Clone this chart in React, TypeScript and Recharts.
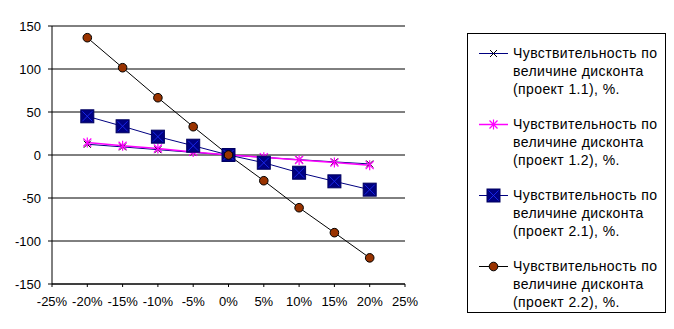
import React from "react";
import { LineChart, Line, XAxis, YAxis, CartesianGrid } from "recharts";

// discount change, %
const discounts = [-20, -15, -10, -5, 0, 5, 10, 15, 20];

const project11 = [12.5, 9.4, 6.2, 3, 0, -2.8, -5.4, -8, -10.4];
const project12 = [14.5, 10.8, 7.6, 3.6, 0, -2.5, -5.8, -8.8, -11.8];
const project21 = [45, 33.4, 21.3, 10.8, 0, -9, -20.6, -30.6, -40.3];
const project22 = [136.4, 101.5, 66.6, 32.9, 0, -29.9, -61.3, -90.3, -119.6];

const xTicks = [-25, -20, -15, -10, -5, 0, 5, 10, 15, 20, 25];
const yTicks = [-150, -100, -50, 0, 50, 100, 150];

const legendText = [
  ["Чувствительность по", "величине дисконта", "(проект 1.1), %."],
  ["Чувствительность по", "величине дисконта", "(проект 1.2), %."],
  ["Чувствительность по", "величине дисконта", "(проект 2.1), %."],
  ["Чувствительность по", "величине дисконта", "(проект 2.2), %."],
];

const data = discounts.map((d, i) => ({
  d,
  p11: project11[i],
  p12: project12[i],
  p21: project21[i],
  p22: project22[i],
}));

const FONT = "'Liberation Sans', Arial, sans-serif";

type M = { cx?: number; cy?: number };

const Cross = ({ cx = 0, cy = 0 }: M) => (
  <g stroke="#000" strokeWidth={1}>
    <line x1={cx - 3.5} y1={cy - 3.5} x2={cx + 3.5} y2={cy + 3.5} />
    <line x1={cx - 3.5} y1={cy + 3.5} x2={cx + 3.5} y2={cy - 3.5} />
  </g>
);

const Star = ({ cx = 0, cy = 0 }: M) => (
  <g stroke="#FF00FF" strokeWidth={1.2}>
    <line x1={cx - 4} y1={cy - 4} x2={cx + 4} y2={cy + 4} />
    <line x1={cx - 4} y1={cy + 4} x2={cx + 4} y2={cy - 4} />
    <line x1={cx} y1={cy - 5} x2={cx} y2={cy + 5} />
  </g>
);

const Square = ({ cx = 0, cy = 0 }: M) => (
  <g>
    <rect x={cx - 6.5} y={cy - 6.5} width={13} height={13} fill="#000080" stroke="#000060" />
    <line x1={cx - 5} y1={cy - 5} x2={cx + 5} y2={cy + 5} stroke="#2030ff" strokeWidth={0.8} />
    <line x1={cx - 5} y1={cy + 5} x2={cx + 5} y2={cy - 5} stroke="#2030ff" strokeWidth={0.8} />
  </g>
);

const Circle = ({ cx = 0, cy = 0 }: M) => (
  <circle cx={cx} cy={cy} r={4.3} fill="#993300" stroke="#000" strokeWidth={1} />
);

const series = [
  { key: "p11", stroke: "#000080", width: 1, Marker: Cross },
  { key: "p12", stroke: "#FF00FF", width: 1.5, Marker: Star },
  { key: "p21", stroke: "#000080", width: 1, Marker: Square },
  { key: "p22", stroke: "#000000", width: 1, Marker: Circle },
];

const LegendBox = () => (
  <div
    style={{
      position: "absolute",
      left: 467,
      top: 33,
      width: 199,
      height: 280,
      border: "1px solid #000",
      background: "#fff",
      fontFamily: FONT,
      fontSize: 14,
      letterSpacing: 0.4,
      lineHeight: "18px",
      color: "#000",
      boxSizing: "border-box",
      paddingTop: 10,
    }}
  >
    {series.map((s, i) => (
      <div key={s.key} style={{ position: "relative", height: 71 }}>
        <svg width={34} height={18} style={{ position: "absolute", left: 10, top: 0 }}>
          <line x1={1} y1={9.5} x2={30} y2={9.5} stroke={s.stroke} strokeWidth={s.width} />
          <s.Marker cx={15.5} cy={9.5} />
        </svg>
        <div style={{ position: "absolute", left: 45, top: 0, whiteSpace: "nowrap" }}>
          {legendText[i].map((t) => (
            <div key={t}>{t}</div>
          ))}
        </div>
      </div>
    ))}
  </div>
);

export default function App() {
  return (
    <div style={{ position: "absolute", left: 0, top: 0, width: 674, height: 329, background: "#fff" }}>
      <LineChart width={674} height={329} data={data} margin={{ top: 26, right: 269, bottom: 15, left: 0 }}>
        <CartesianGrid vertical={false} stroke="#000" strokeDasharray="" />
        <XAxis
          dataKey="d"
          type="number"
          domain={[-25, 25]}
          ticks={xTicks}
          tickFormatter={(v) => `${v}%`}
          interval={0}
          height={30}
          stroke="#000"
          tickSize={3}
          tickMargin={10}
          tick={{ fill: "#000", fontSize: 13, fontFamily: FONT }}
        />
        <YAxis
          type="number"
          domain={[-150, 150]}
          ticks={yTicks}
          interval={0}
          width={52}
          stroke="#000"
          tickSize={4}
          tickMargin={7}
          tick={{ fill: "#000", fontSize: 13, fontFamily: FONT }}
        />
        {series.map((s) => (
          <Line
            key={s.key}
            dataKey={s.key}
            type="linear"
            stroke={s.stroke}
            strokeWidth={s.width}
            dot={(p: any) => <s.Marker key={`${s.key}-${p.index}`} cx={p.cx} cy={p.cy} />}
            activeDot={false}
            isAnimationActive={false}
          />
        ))}
      </LineChart>
      <LegendBox />
    </div>
  );
}
